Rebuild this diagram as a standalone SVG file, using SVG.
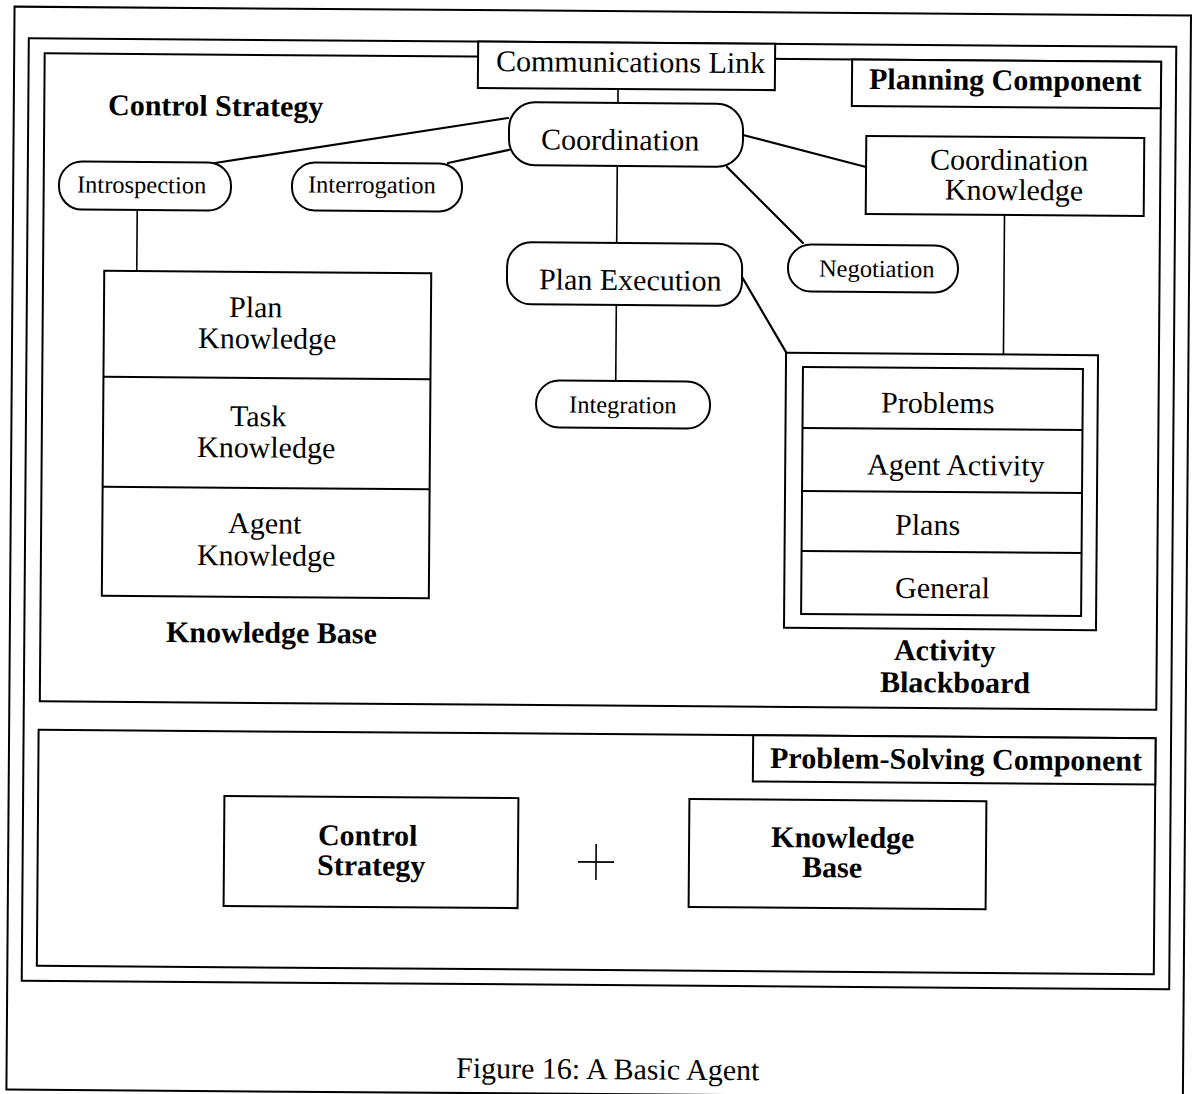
<svg xmlns="http://www.w3.org/2000/svg" width="1193" height="1094" viewBox="0 0 1193 1094">
<style>
  .frame{fill:none;stroke:#000;stroke-width:2}
  .box{fill:#fff;stroke:#000;stroke-width:2}
  .link{fill:none;stroke:#000;stroke-width:2.2;stroke-linecap:round}
  .thin{stroke-width:1.6}
  .t{font-family:"Liberation Serif","Times New Roman",serif;font-size:30px;fill:#000}
  .b{font-weight:bold}
  .s{font-size:24.5px}
</style>
<rect width="1193" height="1094" fill="#fff"/>
<g transform="rotate(0.43 596 547)">
  <!-- page frames -->
  <g id="frames">
    <rect class="frame" x="10.5" y="11" width="1176.5" height="1083"/>
    <rect class="frame" x="25" y="42.5" width="1147.5" height="942.5"/>
  </g>

  <g id="planning-component">
    <rect class="frame" x="41" y="57.5" width="1116.5" height="648"/>
    <rect class="box" x="848.5" y="57.5" width="309" height="46.5"/>
    <text class="t b" x="865.6" y="87">Planning Component</text>
  </g>

  <g id="problem-solving-component">
    <rect class="frame" x="40" y="734" width="1117" height="236"/>
    <rect class="box" x="754.6" y="734" width="402.4" height="46.3"/>
    <text class="t b" x="771.7" y="766.6">Problem-Solving Component</text>
  </g>

  <!-- connectors -->
  <g id="connectors">
    <line class="link thin" x1="614.6" y1="88.8" x2="614.6" y2="102.8"/>
    <line class="link" x1="212.1" y1="165.9" x2="504.8" y2="118.7"/>
    <line class="link" x1="445.1" y1="164.1" x2="506" y2="150.6"/>
    <line class="link" x1="739.9" y1="133.9" x2="863.2" y2="165"/>
    <line class="link" x1="724.2" y1="166" x2="800.7" y2="241.4"/>
    <line class="link thin" x1="614.4" y1="165.8" x2="614.4" y2="242.8"/>
    <line class="link thin" x1="614.5" y1="304.8" x2="614.5" y2="380.8"/>
    <line class="link" x1="740" y1="275.9" x2="785" y2="351.4"/>
    <line class="link thin" x1="1002" y1="211.9" x2="1002" y2="351.4"/>
    <line class="link thin" x1="134.7" y1="213.4" x2="134.7" y2="274.5"/>
  </g>

  <g id="communications-link">
    <rect class="box" x="474.4" y="42.5" width="297" height="46.3"/>
    <text class="t" x="492.4" y="71.8">Communications Link</text>
  </g>

  <g id="control-strategy-label">
    <text class="t b" x="104.8" y="118.7">Control Strategy</text>
  </g>

  <g id="coordination">
    <rect class="box" x="505.9" y="102.8" width="234" height="63" rx="26"/>
    <text class="t" x="538" y="149.8">Coordination</text>
  </g>

  <g id="introspection">
    <rect class="box" x="56.3" y="165.4" width="172" height="48" rx="23"/>
    <text class="t s" x="74.3" y="196.4">Introspection</text>
  </g>

  <g id="interrogation">
    <rect class="box" x="289.3" y="164.6" width="170" height="48" rx="23"/>
    <text class="t s" x="305.3" y="194.6">Interrogation</text>
  </g>

  <g id="coordination-knowledge">
    <rect class="box" x="863.2" y="133.9" width="278" height="78"/>
    <text class="t" x="927.2" y="166.9">Coordination</text>
    <text class="t" x="942.2" y="196.9">Knowledge</text>
  </g>

  <g id="negotiation">
    <rect class="box" x="785.9" y="242.9" width="170" height="47" rx="23"/>
    <text class="t s" x="816.9" y="274.9">Negotiation</text>
  </g>

  <g id="plan-execution">
    <rect class="box" x="505" y="242.8" width="235" height="62" rx="24"/>
    <text class="t" x="537" y="289.8">Plan Execution</text>
  </g>

  <g id="integration">
    <rect class="box" x="535" y="380.8" width="174" height="47" rx="23"/>
    <text class="t s" x="568" y="412.8">Integration</text>
  </g>

  <g id="knowledge-base">
    <rect class="box" x="102.2" y="274.5" width="327" height="325"/>
    <line class="frame" x1="102.2" y1="380.5" x2="429.2" y2="380.5"/>
    <line class="frame" x1="102.2" y1="490.5" x2="429.2" y2="490.5"/>
    <text class="t" x="227.3" y="319.8">Plan</text>
    <text class="t" x="196.5" y="351">Knowledge</text>
    <text class="t" x="229.1" y="428.8">Task</text>
    <text class="t" x="196.3" y="460">Knowledge</text>
    <text class="t" x="227.9" y="535.8">Agent</text>
    <text class="t" x="197.1" y="568">Knowledge</text>
    <text class="t b" x="166.7" y="645.2">Knowledge Base</text>
  </g>

  <g id="activity-blackboard">
    <rect class="box" x="784.6" y="351.4" width="312" height="275" stroke-width="2.4"/>
    <rect class="box" x="801.6" y="365.4" width="280" height="247"/>
    <line class="frame" x1="801.6" y1="426.4" x2="1081.6" y2="426.4"/>
    <line class="frame" x1="801.6" y1="489.4" x2="1081.6" y2="489.4"/>
    <line class="frame" x1="801.6" y1="549.4" x2="1081.6" y2="549.4"/>
    <text class="t" x="880" y="410.4">Problems</text>
    <text class="t" x="866.5" y="472.4">Agent Activity</text>
    <text class="t" x="895" y="532.4">Plans</text>
    <text class="t" x="895.4" y="595.4">General</text>
    <text class="t b" x="894.8" y="657.8">Activity</text>
    <text class="t b" x="881.1" y="689.9">Blackboard</text>
  </g>

  <g id="ps-control-strategy">
    <rect class="box" x="226.3" y="798.7" width="294" height="110"/>
    <text class="t b" x="320.2" y="847.1">Control</text>
    <text class="t b" x="319.5" y="877.1">Strategy</text>
  </g>

  <g id="ps-plus">
    <path d="M580.4 862H616.4M598.4 844V880" fill="none" stroke="#000" stroke-width="1.6"/>
  </g>

  <g id="ps-knowledge-base">
    <rect class="box" x="691.3" y="798.2" width="297" height="108"/>
    <text class="t b" x="773.3" y="845.7">Knowledge</text>
    <text class="t b" x="804.5" y="875.5">Base</text>
  </g>

  <g id="caption">
    <text class="t" x="460" y="1079">Figure 16: A Basic Agent</text>
  </g>
</g>
</svg>
